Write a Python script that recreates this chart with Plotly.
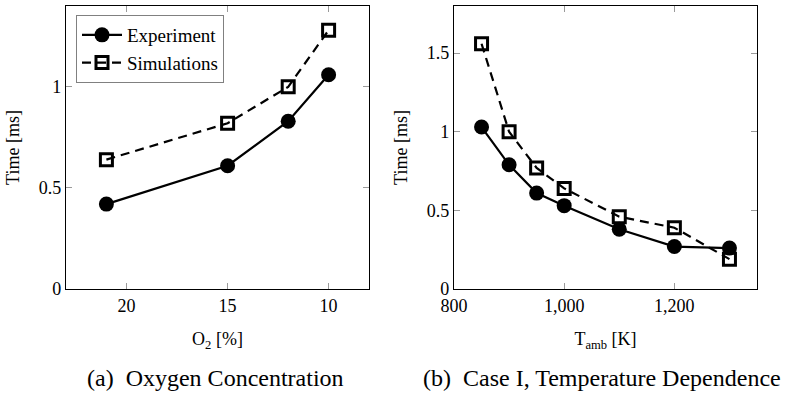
import plotly.graph_objects as go

# Left panel: oxygen concentration
o2_pct = [21, 15, 12, 10]
o2_experiment = [0.42, 0.61, 0.83, 1.06]
o2_simulation = [0.64, 0.82, 1.00, 1.28]

# Right panel: ambient temperature
t_amb = [850, 900, 950, 1000, 1100, 1200, 1300]
t_experiment = [1.03, 0.79, 0.61, 0.53, 0.38, 0.27, 0.26]
t_simulation = [1.56, 1.00, 0.77, 0.64, 0.46, 0.39, 0.19]

left_xticks = [20, 15, 10]
left_yticks = [0, 0.5, 1]
right_xticks = [800, 1000, 1200]
right_yticks = [0, 0.5, 1, 1.5]

FONT = "'Liberation Serif', 'Times New Roman', Times, serif"
W, H = 785, 394

def px_x(p):
    return p / W

def px_y(p):
    return 1 - p / H

exp_style = dict(mode="lines+markers",
                 line=dict(color="black", width=2.2),
                 marker=dict(symbol="circle", size=15, color="black", line=dict(width=0)))
sim_style = dict(mode="lines+markers",
                 line=dict(color="black", width=2.2, dash="9px,6px"),
                 marker=dict(symbol="square-open", size=12, color="black", line=dict(width=3, color="black")))

fig = go.Figure()
fig.add_trace(go.Scatter(x=o2_pct, y=o2_experiment, name="Experiment", xaxis="x", yaxis="y", **exp_style))
fig.add_trace(go.Scatter(x=o2_pct, y=o2_simulation, name="Simulations", xaxis="x", yaxis="y", **sim_style))
fig.add_trace(go.Scatter(x=t_amb, y=t_experiment, name="Experiment", xaxis="x2", yaxis="y2", showlegend=False, **exp_style))
fig.add_trace(go.Scatter(x=t_amb, y=t_simulation, name="Simulations", xaxis="x2", yaxis="y2", showlegend=False, **sim_style))

axis_common = dict(showline=True, linecolor="black", linewidth=1.2, mirror="ticks",
                   ticks="inside", ticklen=6, tickcolor="#9a9a9a", tickwidth=1,
                   showgrid=False, zeroline=False, automargin=False,
                   tickfont=dict(family=FONT, size=18, color="black"))

fig.update_layout(
    width=W, height=H,
    margin=dict(l=0, r=0, t=0, b=0),
    paper_bgcolor="white", plot_bgcolor="white",
    font=dict(family=FONT, size=18, color="black"),
    xaxis=dict(domain=[px_x(66), px_x(369)], range=[23, 8], tickvals=left_xticks,
               anchor="y", title=dict(text="O<sub>2</sub> [%]", standoff=17,
                                      font=dict(family=FONT, size=18)), **axis_common),
    yaxis=dict(domain=[px_y(289), px_y(6)], range=[0, 1.4], tickvals=left_yticks,
               anchor="x", title=dict(text="Time [ms]", standoff=14,
                                      font=dict(family=FONT, size=18)), **axis_common),
    xaxis2=dict(domain=[px_x(454), px_x(757)], range=[800, 1350], tickvals=right_xticks,
                tickformat=",", anchor="y2",
                title=dict(text="T<sub>amb</sub> [K]", standoff=17,
                           font=dict(family=FONT, size=18)), **axis_common),
    yaxis2=dict(domain=[px_y(289), px_y(6)], range=[0, 1.8], tickvals=right_yticks,
                anchor="x2", title=dict(text="Time [ms]", standoff=14,
                                        font=dict(family=FONT, size=18)), **axis_common),
    legend=dict(x=px_x(76), y=px_y(15), xanchor="left", yanchor="top",
                bgcolor="white", bordercolor="#808080", borderwidth=1,
                font=dict(family=FONT, size=19), itemwidth=40,
                tracegroupgap=0),
    annotations=[
        dict(text="(a)  Oxygen Concentration", x=px_x(215), y=px_y(378), xref="paper", yref="paper",
             showarrow=False, xanchor="center", yanchor="middle", font=dict(family=FONT, size=24)),
        dict(text="(b)  Case I, Temperature Dependence", x=px_x(602), y=px_y(378), xref="paper", yref="paper",
             showarrow=False, xanchor="center", yanchor="middle", font=dict(family=FONT, size=24)),
    ],
)

fig.write_html("out.html")
